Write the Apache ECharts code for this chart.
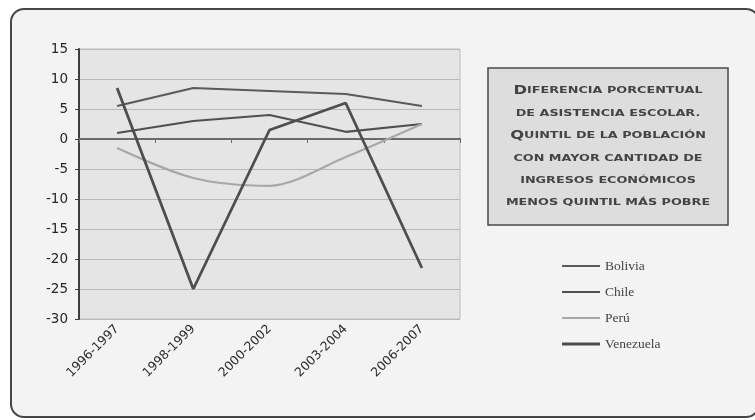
<!DOCTYPE html>
<html>
<head>
<meta charset="utf-8">
<script src="https://cdn.jsdelivr.net/npm/echarts@6/dist/echarts.min.js"></script>
<style>
  html, body { margin: 0; padding: 0; background: #ffffff; }
  #chart { width: 755px; height: 420px; }
</style>
</head>
<body>
<div id="chart"></div>
<script>
// Periods surveyed
const periods = ['1996-1997', '1998-1999', '2000-2002', '2003-2004', '2006-2007'];

// Percentage-point gap in school attendance (richest quintil minus poorest)
const bolivia   = [5.5, 8.5, 8, 7.5, 5.5];
const chile     = [1, 3, 4, 1.2, 2.5];
const peru      = [-1.5, -6.5, -7.8, -3, 2.5];
const venezuela = [8.5, -25, 1.5, 6, -21.5];

// Value axis range and step
const yMin = -30, yMax = 15, yStep = 5;

// Title lines (small caps look: first letter of a sentence is larger)
const titleLines = [
  'Diferencia porcentual',
  'de asistencia escolar.',
  'Quintil de la población',
  'con mayor cantidad de',
  'ingresos económicos',
  'menos quintil más pobre'
];

function smallCaps(line) {
  const up = line.toUpperCase();
  if (/^[DQ]/.test(line)) {
    return '{big|' + up[0] + '}{s|' + up.slice(1) + '}';
  }
  return '{s|' + up + '}';
}

// Legend swatches: a horizontal stroke centred in a 38x14 box
function strokeIcon(th) {
  const a = 7 - th / 2, b = 7 + th / 2;
  return 'path://M0,0L0.01,0L0.01,0.01Z M0,' + a + 'L38,' + a + 'L38,' + b + 'L0,' + b +
         'Z M37.99,14L38,14L38,13.99Z';
}

const chart = echarts.init(document.getElementById('chart'), null, { renderer: 'canvas' });

const titleGraphics = titleLines.map((ln, i) => ({
  type: 'text',
  x: 608,
  y: 91 + i * 22.4,
  scaleX: 1.42,
  z: 12,
  style: {
    text: smallCaps(ln),
    textAlign: 'center',
    textVerticalAlign: 'middle',
    fill: '#3c3c3c',
    rich: {
      s:   { fontFamily: 'DejaVu Sans', fontSize: 9, fontWeight: 'bold', fill: '#444444' },
      big: { fontFamily: 'DejaVu Sans', fontSize: 11.5, fontWeight: 'bold', fill: '#444444' }
    }
  }
}));

const option = {
  animation: false,
  backgroundColor: '#ffffff',
  graphic: [
    {
      type: 'rect',
      z: -10,
      shape: { x: 11, y: 9, width: 748, height: 408, r: 13 },
      style: { fill: '#f3f3f3', stroke: '#474747', lineWidth: 2 }
    },
    {
      type: 'rect',
      z: 10,
      shape: { x: 488, y: 68, width: 240, height: 157 },
      style: { fill: '#dddddd', stroke: '#4a4a4a', lineWidth: 1.5 }
    }
  ].concat(titleGraphics),
  grid: {
    left: 79, right: 295, top: 49, bottom: 101,
    show: true,
    backgroundColor: '#e5e5e5',
    borderColor: '#bdbdbd',
    borderWidth: 1
  },
  legend: {
    orient: 'vertical',
    left: 557,
    top: 254,
    itemWidth: 38,
    itemHeight: 14,
    itemGap: 12,
    textStyle: { fontFamily: 'Liberation Serif', fontSize: 13.5, color: '#444' },
    data: [
      { name: 'Bolivia', icon: strokeIcon(2.2) },
      { name: 'Chile', icon: strokeIcon(2.2) },
      { name: 'Perú', icon: strokeIcon(2.2) },
      { name: 'Venezuela', icon: strokeIcon(3) }
    ]
  },
  xAxis: [
    {
      type: 'category',
      data: periods,
      position: 'bottom',
      boundaryGap: true,
      axisLine: { show: false, onZero: false },
      axisTick: { show: false },
      axisLabel: {
        rotate: 45,
        margin: 8,
        fontFamily: 'DejaVu Sans',
        fontSize: 12.5,
        color: '#2e2e2e'
      }
    },
    {
      type: 'category',
      data: periods,
      position: 'top',
      boundaryGap: true,
      axisLine: { show: true, onZero: true, lineStyle: { color: '#6a6a6a', width: 2 } },
      axisTick: { show: true, inside: true, length: 4, lineStyle: { color: '#6a6a6a' } },
      axisLabel: { show: false }
    }
  ],
  yAxis: {
    type: 'value',
    min: yMin,
    max: yMax,
    interval: yStep,
    axisLine: { show: true, lineStyle: { color: '#3e3e3e', width: 2 } },
    axisTick: { show: true, length: 4, lineStyle: { color: '#3e3e3e' } },
    axisLabel: {
      fontFamily: 'DejaVu Sans',
      fontSize: 13.5,
      color: '#262626',
      margin: 11
    },
    splitLine: { show: true, lineStyle: { color: '#b9b9b9', width: 1 } }
  },
  series: [
    {
      name: 'Bolivia', type: 'line', data: bolivia, xAxisIndex: 0,
      symbol: 'none', lineStyle: { color: '#5a5a5a', width: 2.2 }, itemStyle: { color: '#5a5a5a' }
    },
    {
      name: 'Chile', type: 'line', data: chile, xAxisIndex: 0,
      symbol: 'none', lineStyle: { color: '#505050', width: 2.2 }, itemStyle: { color: '#505050' }
    },
    {
      name: 'Perú', type: 'line', data: peru, xAxisIndex: 0, smooth: 0.3,
      symbol: 'none', lineStyle: { color: '#a8a8a8', width: 2.2 }, itemStyle: { color: '#a8a8a8' }
    },
    {
      name: 'Venezuela', type: 'line', data: venezuela, xAxisIndex: 0,
      symbol: 'none', lineStyle: { color: '#4e4e4e', width: 2.8 }, itemStyle: { color: '#4e4e4e' }
    }
  ]
};

chart.setOption(option);
</script>
</body>
</html>
